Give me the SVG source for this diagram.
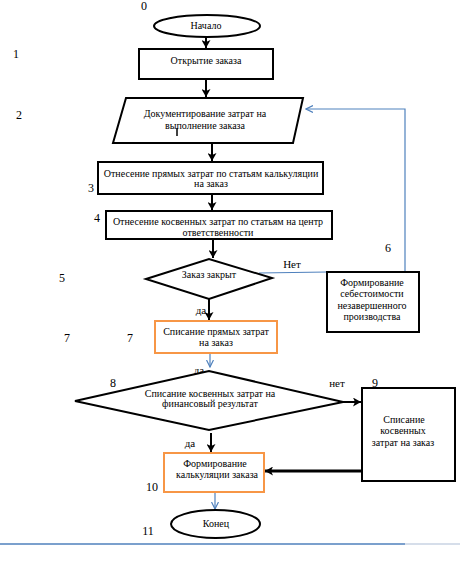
<svg xmlns="http://www.w3.org/2000/svg" width="460" height="562" viewBox="0 0 460 562">
<style>
  .t{font-family:"Liberation Serif","Times New Roman","DejaVu Serif",serif;font-size:10px;fill:#000;text-anchor:middle}
  .n{font-family:"Liberation Serif","Times New Roman","DejaVu Serif",serif;font-size:11px;fill:#000;text-anchor:middle}
  .m{font-family:"Liberation Serif","Times New Roman","DejaVu Serif",serif;font-size:12px;fill:#000;text-anchor:middle}
  .b{fill:#fff;stroke:#000;stroke-width:2}
  .o{fill:#fff;stroke:#F79646;stroke-width:2}
  .k{fill:none;stroke:#000;stroke-width:2}
  .kk{fill:none;stroke:#000;stroke-width:3}
  .bl{fill:none;stroke:#4F81BD;stroke-width:1.2}
</style>
<defs>
  <marker id="ah" markerUnits="userSpaceOnUse" markerWidth="9" markerHeight="9" refX="8" refY="4.5" orient="auto">
    <path d="M0,0 L8,4.5 L0,9 L2,4.5 z" fill="#000"/>
  </marker>
  <marker id="ahb" markerUnits="userSpaceOnUse" markerWidth="8" markerHeight="8" refX="7" refY="4" orient="auto">
    <path d="M0,0.5 L7,4 L0,7.5" fill="none" stroke="#4F81BD" stroke-width="1.2"/>
  </marker>
</defs>

<g id="connectors">
  <line class="k" x1="206" y1="27" x2="206" y2="48" marker-end="url(#ah)"/>
  <line class="k" x1="206" y1="80" x2="206" y2="97" marker-end="url(#ah)"/>
  <line class="k" x1="212" y1="143" x2="212" y2="161" marker-end="url(#ah)"/>
  <line class="k" x1="212" y1="194" x2="212" y2="210" marker-end="url(#ah)"/>
  <line class="k" x1="213" y1="239" x2="213" y2="258" marker-end="url(#ah)"/>
  <line class="k" x1="209" y1="299" x2="209" y2="320" marker-end="url(#ah)"/>
  <line class="bl" x1="210" y1="353" x2="210" y2="367" marker-end="url(#ahb)"/>
  <line class="k" x1="343" y1="402" x2="361" y2="402" marker-end="url(#ah)"/>
  <line class="k" x1="211" y1="433" x2="211" y2="452" marker-end="url(#ah)"/>
  <line class="kk" x1="362" y1="471" x2="265" y2="471" marker-end="url(#ah)"/>
  <line class="bl" x1="215" y1="492" x2="215" y2="509" marker-end="url(#ahb)"/>
  <polyline class="bl" points="259,273 327,272"/>
  <polyline class="bl" points="405,272 405,109 306,109" marker-end="url(#ahb)"/>
  <text class="n" x="292" y="268">Нет</text>
  <text class="n" x="201" y="314">да</text>
  <text class="n" x="199" y="374">да</text>
  <text class="n" x="337" y="387">нет</text>
  <text class="n" x="190" y="447">да</text>
</g>

<g id="n0">
  <ellipse class="b" cx="207" cy="26" rx="53" ry="11"/>
  <text class="t" x="206" y="29">Начало</text>
</g>
<g id="n1">
  <rect class="b" x="139" y="49" width="134" height="30"/>
  <text class="t" x="206" y="64">Открытие заказа</text>
</g>
<g id="n2">
  <polygon class="b" points="126,98 303,98 293,143 113,143"/>
  <text class="t" x="205" y="116.5">Документирование затрат на</text>
  <text class="t" x="205" y="128.5">выполнение заказа</text>
  <line x1="177" y1="128" x2="177" y2="136" stroke="#000" stroke-width="1.5"/>
</g>
<g id="n3">
  <rect class="b" x="98" y="162" width="225" height="32"/>
  <text class="t" x="211" y="176.5">Отнесение прямых затрат по статьям калькуляции</text>
  <text class="t" x="211" y="187">на заказ</text>
</g>
<g id="n4">
  <rect class="b" x="106" y="211" width="226" height="28"/>
  <text class="t" x="218" y="224.5">Отнесение косвенных затрат по статьям на центр</text>
  <text class="t" x="218" y="235.5">ответственности</text>
</g>
<g id="n5">
  <polygon class="b" points="146,279 209,259 272,278 209,299"/>
  <text class="t" x="209" y="278">Заказ закрыт</text>
</g>
<g id="n6">
  <rect class="b" x="327" y="272" width="92" height="60"/>
  <text class="t" x="372" y="285.5">Формирование</text>
  <text class="t" x="372" y="297">себестоимости</text>
  <text class="t" x="372" y="308.5">незавершенного</text>
  <text class="t" x="372" y="320">производства</text>
</g>
<g id="n7">
  <rect class="o" x="155" y="321" width="122" height="32"/>
  <text class="t" x="216" y="334.5">Списание прямых затрат</text>
  <text class="t" x="216" y="345.5">на заказ</text>
</g>
<g id="n8">
  <polygon class="b" points="75,401 209,371 343,402 209,430"/>
  <text class="t" x="210" y="396.5">Списание косвенных затрат на</text>
  <text class="t" x="210" y="406.5">финансовый результат</text>
</g>
<g id="n9">
  <rect class="b" x="362" y="388" width="93" height="93"/>
  <text class="t" x="404" y="423">Списание</text>
  <text class="t" x="403" y="434">косвенных</text>
  <text class="t" x="403" y="445.5">затрат на заказ</text>
</g>
<g id="n10">
  <rect class="o" x="164" y="453" width="100" height="39"/>
  <text class="t" x="215" y="466.5">Формирование</text>
  <text class="t" x="217" y="478">калькуляции заказа</text>
</g>
<g id="n11">
  <ellipse class="b" cx="215.5" cy="524" rx="44.5" ry="14"/>
  <text class="t" x="216" y="527">Конец</text>
</g>

<g id="numbers">
  <text class="m" x="144" y="10">0</text>
  <text class="m" x="16" y="58">1</text>
  <text class="m" x="19" y="119">2</text>
  <text class="m" x="91" y="192">3</text>
  <text class="m" x="97" y="222" fill="#1f1f5a">4</text>
  <text class="m" x="62" y="282">5</text>
  <text class="m" x="388" y="252">6</text>
  <text class="m" x="67" y="342">7</text>
  <text class="m" x="130" y="342">7</text>
  <text class="m" x="113" y="387">8</text>
  <text class="m" x="375" y="387">9</text>
  <text class="m" x="152" y="491">10</text>
  <text class="m" x="148" y="535">11</text>
</g>

<line x1="0" y1="544" x2="405" y2="544" stroke="#4F81BD" stroke-width="1.5"/>
<line x1="405" y1="544" x2="460" y2="544" stroke="#C9D3E3" stroke-width="1.5"/>
</svg>
